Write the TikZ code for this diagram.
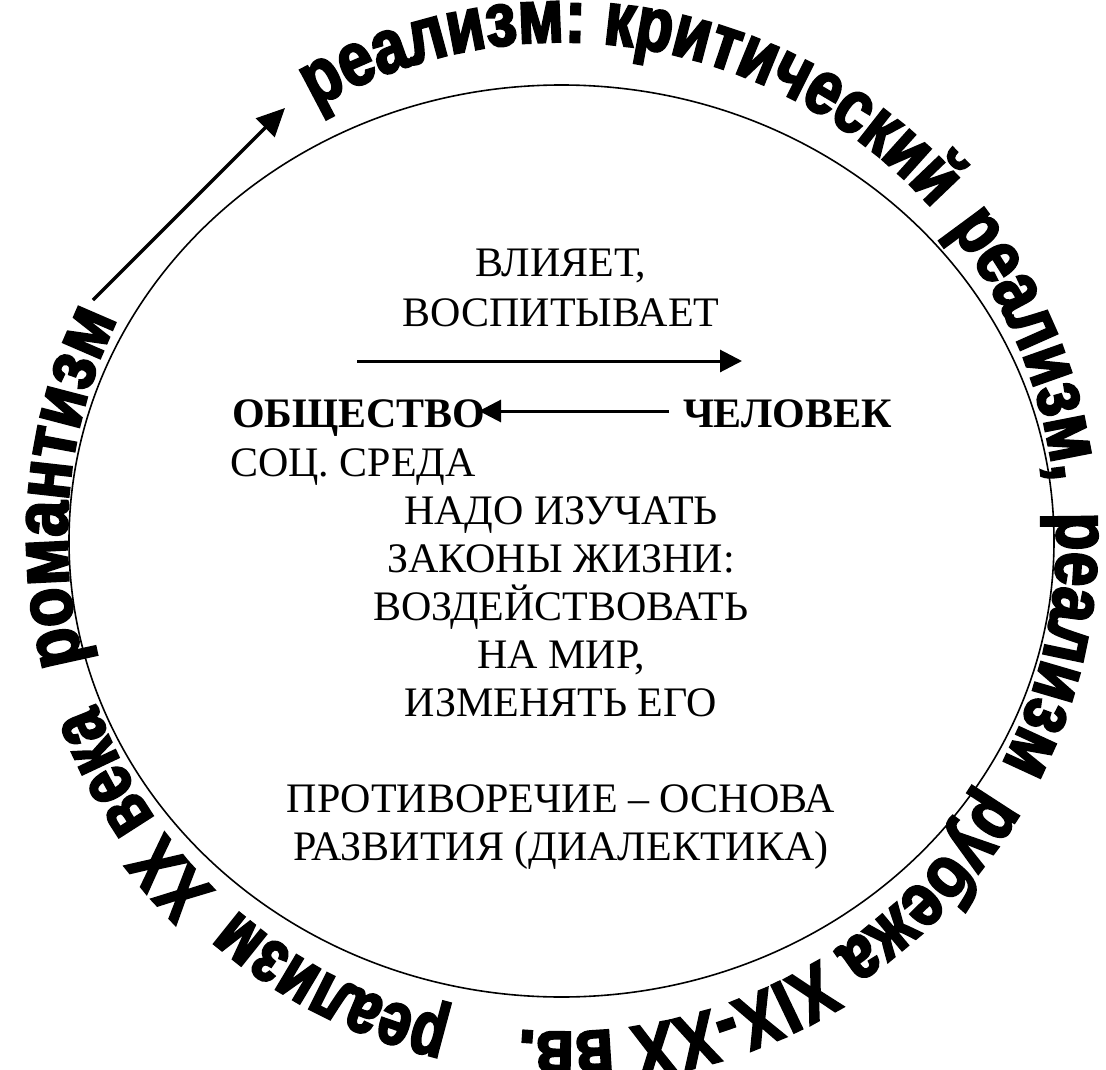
\documentclass[tikz,border=0pt]{standalone}
\usepackage{fontspec}
\setmainfont{Liberation Serif}
\newfontfamily\wafont[FakeBold=3,FakeStretch=0.76]{Liberation Sans Bold}
\newfontfamily\wafontk[FakeBold=3,FakeStretch=0.795]{Liberation Sans Bold}
\newfontfamily\wafontw[FakeBold=3,FakeStretch=0.815]{Liberation Sans Bold}
\newfontfamily\wafontr[FakeBold=3,FakeStretch=0.85]{Liberation Sans Bold}
\usetikzlibrary{decorations.text,arrows.meta}
\newcommand\wasize{\fontsize{76}{82}\selectfont}
\begin{document}
\begin{tikzpicture}[x=1pt,y=1pt,
  every node/.style={inner sep=0pt, outer sep=0pt},
  lbl/.style={font=\fontsize{42}{50}\selectfont},
  blbl/.style={font=\fontsize{42}{50}\selectfont\bfseries},
  arr/.style={line width=3pt, -{Triangle[length=22pt,width=22pt]}},
  bigarr/.style={line width=3.5pt, -{Triangle[length=28pt,width=26pt]}},
]
\useasboundingbox (0,0) rectangle (1106,-1070);
\draw[line width=1.6pt] (561.5,-541) ellipse [x radius=492.5, y radius=456];

% circular text (baseline circle centre (562,-537), radius 495)
\coordinate (tc) at (562,-537);
\path[decorate, decoration={text along path, text align=left,
  text={|\wafontr\wasize|романтизм}}]
  (tc) ++(194.7:495) arc[start angle=194.7, end angle=125, radius=495];
\path[decorate, decoration={text along path, text align=left,
  text={|\wafontw\wasize|реализм:}}]
  (tc) ++(119.9:495) arc[start angle=119.9, end angle=70, radius=495];
\path[decorate, decoration={text along path, text align=left,
  text={|\wafontk\wasize|критический}}]
  (tc) ++(85.3:495) arc[start angle=85.3, end angle=20, radius=495];
\path[decorate, decoration={text along path, text align=left,
  text={|\wafontw\wasize|реализм,}}]
  (tc) ++(38.6:495) arc[start angle=38.6, end angle=-5, radius=495];
\path[decorate, decoration={text along path, text align=left,
  text={|\wafontw\wasize|реализм}}]
  (tc) ++(2.8:495) arc[start angle=2.8, end angle=-40, radius=495];
\path[decorate, decoration={text along path, text align=left,
  text={|\wafontw\wasize|рубежа XIX-XX вв.}}]
  (tc) ++(-30.8:495) arc[start angle=-30.8, end angle=-110, radius=495];
\path[decorate, decoration={text along path, text align=left,
  text={|\wafont\wasize|реализм}}]
  (tc) ++(257:495) arc[start angle=257, end angle=220, radius=495];
\path[decorate, decoration={text along path, text align=left,
  text={|\wafont\wasize|XX века}}]
  (tc) ++(225.5:495) arc[start angle=225.5, end angle=190, radius=495];

% big arrow romantism -> realism
\coordinate (ba1) at (93,-300);
\coordinate (ba2) at (285,-108);
\draw[bigarr] (ba1) -- (ba2);

% central text
\node[lbl, anchor=base] (l1) at (561,-276) {ВЛИЯЕТ,};
\node[lbl, anchor=base] (l2) at (561,-326) {ВОСПИТЫВАЕТ};
\coordinate (ra1) at (357,-361);
\coordinate (ra2) at (742,-361);
\draw[arr] (ra1) -- (ra2);
\node[blbl, anchor=base west] (obs) at (232,-427) {ОБЩЕСТВО};
\node[blbl, anchor=base west] (chel) at (683,-427) {ЧЕЛОВЕК};
\coordinate (la1) at (669,-411);
\coordinate (la2) at (479,-411);
\draw[arr] (la1) -- (la2);
\node[lbl, anchor=base west] (soc) at (230,-476) {СОЦ. СРЕДА};
\node[lbl, anchor=base] (t1) at (561,-524) {НАДО ИЗУЧАТЬ};
\node[lbl, anchor=base] (t2) at (561,-572) {ЗАКОНЫ ЖИЗНИ:};
\node[lbl, anchor=base] (t3) at (561,-620) {ВОЗДЕЙСТВОВАТЬ};
\node[lbl, anchor=base] (t4) at (561,-668) {НА МИР,};
\node[lbl, anchor=base] (t5) at (561,-716) {ИЗМЕНЯТЬ ЕГО};
\node[lbl, anchor=base] (t6) at (561,-812) {ПРОТИВОРЕЧИЕ – ОСНОВА};
\node[lbl, anchor=base] (t7) at (561,-860) {РАЗВИТИЯ (ДИАЛЕКТИКА)};
\end{tikzpicture}
\end{document}
